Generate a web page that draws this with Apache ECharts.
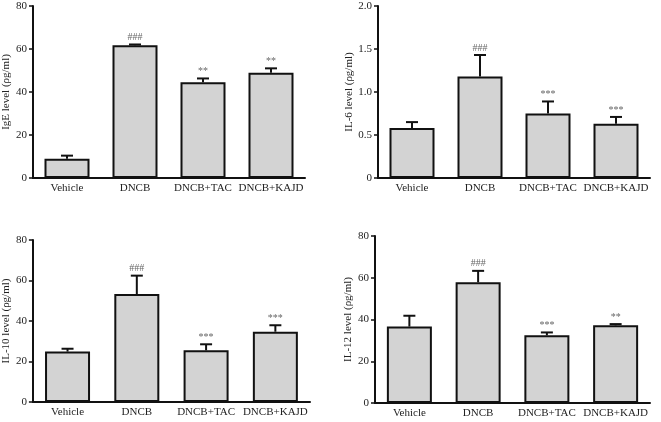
<!DOCTYPE html>
<html><head><meta charset="utf-8">
<script src="https://cdn.jsdelivr.net/npm/echarts@6/dist/echarts.min.js"></script>
<style>html,body{margin:0;padding:0;background:#fff}#c{width:661px;height:422px}</style>
</head><body><div id="c"></div>
<script>
var categories = ['Vehicle', 'DNCB', 'DNCB+TAC', 'DNCB+KAJD'];

var igeMean = [9.0, 61.8, 44.5, 49.0];
var igeUpper = [10.4, 62.1, 46.3, 51.0];
var igeSig = ['', '###', '**', '**'];

var il6Mean = [0.58, 1.18, 0.75, 0.63];
var il6Upper = [0.65, 1.43, 0.89, 0.71];
var il6Sig = ['', '###', '***', '***'];

var il10Mean = [24.9, 53.3, 25.5, 34.7];
var il10Upper = [26.3, 62.4, 28.5, 37.9];
var il10Sig = ['', '###', '***', '***'];

var il12Mean = [36.6, 57.8, 32.4, 37.2];
var il12Upper = [41.8, 63.3, 33.8, 37.8];
var il12Sig = ['', '###', '***', '**'];

var yTitles = ['IgE level (\u03c1g/ml)', 'IL-6 level (\u03c1g/ml)', 'IL-10 level (\u03c1g/ml)', 'IL-12 level (\u03c1g/ml)'];
var yMax = [80, 2.0, 80, 80];
var yInterval = [20, 0.5, 20, 20];

var panels = [
  {mean: igeMean, upper: igeUpper, sig: igeSig},
  {mean: il6Mean, upper: il6Upper, sig: il6Sig},
  {mean: il10Mean, upper: il10Upper, sig: il10Sig},
  {mean: il12Mean, upper: il12Upper, sig: il12Sig}
];

var FONT = 'Liberation Serif';
var grids = [
  {left: 33, width: 272, top: 6, height: 172},
  {left: 378, width: 272, top: 6, height: 172},
  {left: 29, width: 281, top: 240, height: 162},
  {left: 375, width: 275, top: 236, height: 167}
];
var nameGaps = [21, 22, 19, 19];

var chart = echarts.init(document.getElementById('c'), null, {renderer: 'canvas'});
var xAxes = [], yAxes = [], series = [];
panels.forEach(function (p, i) {
  xAxes.push({
    type: 'category', gridIndex: i, data: categories,
    axisLine: {lineStyle: {color: '#111', width: 2}},
    axisTick: {show: false},
    axisLabel: {color: '#222', fontFamily: FONT, fontSize: 11, margin: 5, interval: 0}
  });
  yAxes.push({
    type: 'value', gridIndex: i, min: 0, max: yMax[i], interval: yInterval[i],
    name: yTitles[i], nameLocation: 'middle', nameRotate: 90, nameGap: nameGaps[i],
    nameTextStyle: {color: '#222', fontFamily: FONT, fontSize: 11},
    axisLine: {show: true, lineStyle: {color: '#111', width: 2}},
    axisTick: {show: true, length: 4, lineStyle: {color: '#111', width: 1.5}},
    axisLabel: {color: '#222', fontFamily: FONT, fontSize: 11, margin: 6,
      formatter: function (v) { return i === 1 ? (v === 0 ? '0' : v.toFixed(1)) : String(v); }},
    splitLine: {show: false}
  });
  series.push({
    type: 'bar', xAxisIndex: i, yAxisIndex: i, data: p.mean, barWidth: 45,
    itemStyle: {color: '#d3d3d3', borderColor: '#111', borderWidth: 2},
    z: 2
  });
  var errData = p.mean.map(function (m, k) { return [k, m, p.upper[k]]; });
  series.push({
    type: 'custom', xAxisIndex: i, yAxisIndex: i, data: errData,
    encode: {x: 0, y: [1, 2]}, z: 3,
    renderItem: function (params, api) {
      var k = api.value(0);
      var lo = api.coord([k, api.value(1)]);
      var hi = api.coord([k, api.value(2)]);
      var half = 6;
      var st = {stroke: '#111', lineWidth: 2};
      var children = [
        {type: 'line', shape: {x1: lo[0], y1: lo[1], x2: hi[0], y2: hi[1]}, style: st},
        {type: 'line', shape: {x1: hi[0] - half, y1: hi[1], x2: hi[0] + half, y2: hi[1]}, style: st}
      ];
      var s = p.sig[params.dataIndex];
      if (s) {
        children.push({type: 'text', style: {text: s, x: hi[0], y: hi[1] - 2,
          textAlign: 'center', textVerticalAlign: 'bottom',
          fill: '#666', font: '10px "' + FONT + '"'}});
      }
      return {type: 'group', children: children};
    }
  });
});

chart.setOption({
  animation: false,
  backgroundColor: '#fff',
  grid: grids,
  xAxis: xAxes,
  yAxis: yAxes,
  series: series
});
</script>
</body></html>
